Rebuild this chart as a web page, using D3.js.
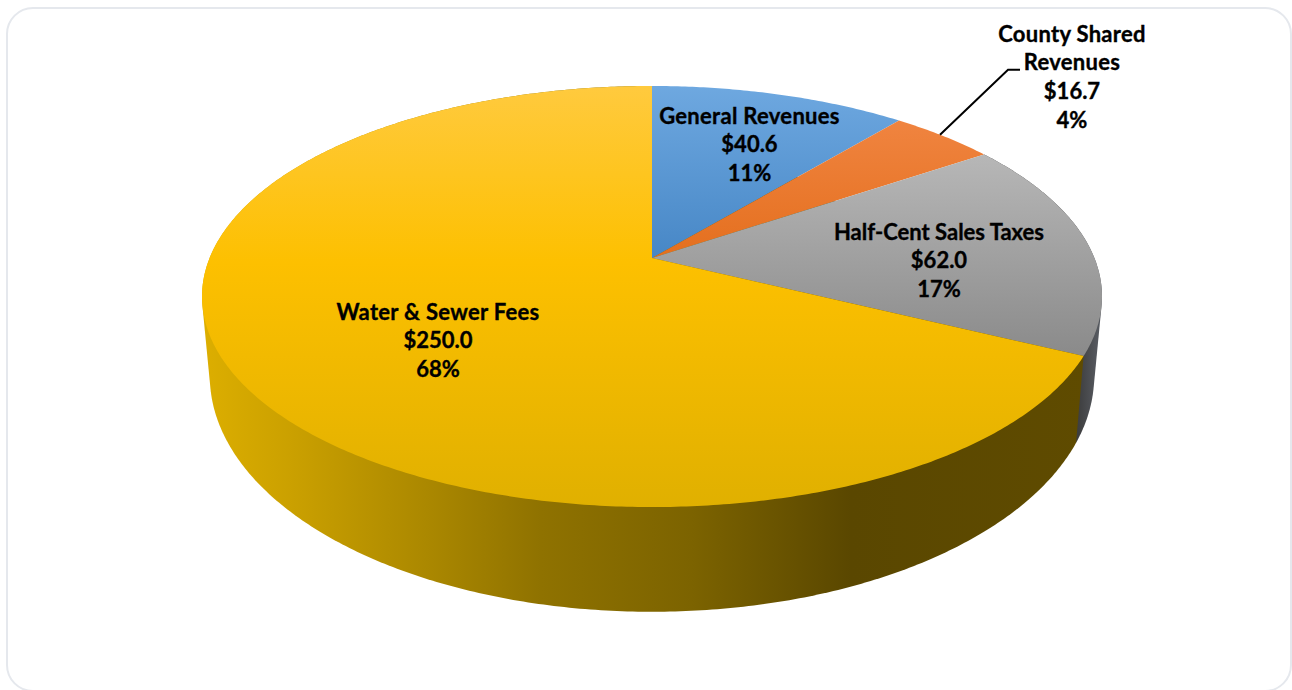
<!DOCTYPE html>
<html>
<head>
<meta charset="utf-8">
<script src="https://cdnjs.cloudflare.com/ajax/libs/d3/7.8.5/d3.min.js"></script>
<style>
html,body{margin:0;padding:0;background:#fff;overflow:hidden}
svg{display:block}
text{font-family:Lato,"Open Sans",sans-serif;font-weight:700;fill:#000;text-anchor:middle;stroke:#000;stroke-width:0.35px}
</style>
</head>
<body>
<svg id="chart" width="1292" height="690"></svg>
<script>
const categories = ["General Revenues", "County Shared Revenues", "Half-Cent Sales Taxes", "Water & Sewer Fees"];
const values = [40.6, 16.7, 62.0, 250.0];
const amountLabels = ["$40.6", "$16.7", "$62.0", "$250.0"];
const percentLabels = ["11%", "4%", "17%", "68%"];

const svg = d3.select("#chart");
const defs = svg.append("defs");

// perspective projection of the pie's top and bottom discs
const k = 0.1829;
const topDisc = {cx: 652, cy: 258, a: 442.4, b: 203.5};
const botDisc = {cx: 652, cy: 333, a: 434.7, b: 227.8};
function project(disc, ang) {
  const u = Math.sin(ang), v = -Math.cos(ang), w = 1 - k * v;
  return [disc.cx + disc.a * u / w, disc.cy + disc.b * v / w];
}
function rim(disc, a0, a1) {
  const n = Math.max(2, Math.ceil(Math.abs(a1 - a0) / 0.01));
  return d3.range(n + 1).map(i => project(disc, a0 + (a1 - a0) * i / n));
}
const line = d3.line();

const arcs = d3.pie().sort(null).startAngle(0).endAngle(2 * Math.PI)(values);

function grad(id, x1, y1, x2, y2, stops) {
  const g = defs.append("linearGradient").attr("id", id).attr("gradientUnits", "userSpaceOnUse")
    .attr("x1", x1).attr("y1", y1).attr("x2", x2).attr("y2", y2);
  stops.forEach(s => g.append("stop").attr("offset", s[0]).attr("stop-color", s[1]));
}
const T0 = topDisc.cy - 172, T1 = topDisc.cy + 249;
grad("top0", 0, T0, 0, topDisc.cy, [[0, "#6ea8e0"], [1, "#4787c6"]]);
grad("top1", 0, 120, 0, topDisc.cy, [[0, "#f08440"], [1, "#e46f1e"]]);
grad("top2", 0, 150, 0, 352, [[0, "#b8b8b8"], [1, "#8b8b8b"]]);
grad("top3", 0, T0, 0, T1, [[0, "#ffca3e"], [0.42, "#fdc000"], [1, "#e0b000"]]);
grad("side3", 205, 0, 1090, 0, [[0, "#dcae00"], [0.1, "#caa000"], [0.25, "#ab8800"], [0.38, "#8f7200"], [0.55, "#7c6300"], [0.73, "#5a4700"], [1, "#5f4b00"]]);
grad("side2", 1075, 0, 1097, 0, [[0, "#3a3a3a"], [1, "#55585e"]]);

// card
svg.append("rect").attr("x", 7).attr("y", 8).attr("width", 1284).attr("height", 683)
  .attr("rx", 26).attr("ry", 26).attr("fill", "#fff").attr("stroke", "#e5e8ed").attr("stroke-width", 2);

// sides: silhouette of the cylinder wall is the hull of both rims
[2, 3].forEach(i => {
  const d = arcs[i];
  const hull = d3.polygonHull(rim(topDisc, d.startAngle, d.endAngle).concat(rim(botDisc, d.startAngle, d.endAngle)));
  svg.append("path").attr("d", line(hull) + "Z").attr("fill", `url(#side${i})`);
});

// top faces
svg.append("g").selectAll("path").data(arcs).join("path")
  .attr("d", d => {
    const pts = [[topDisc.cx, topDisc.cy]].concat(rim(topDisc, d.startAngle, d.endAngle));
    return line(pts) + "Z";
  })
  .attr("fill", (d, i) => `url(#top${i})`);

// leader line for the small slice
const countyAngle = arcs[1].startAngle + (arcs[1].endAngle - arcs[1].startAngle) * 0.46;
const leadStart = project(topDisc, countyAngle);
const leadElbow = [leadStart[0] + 68, leadStart[1] - 65];
const leadEnd = [leadElbow[0] + 12, leadElbow[1]];
svg.append("path").attr("d", line([leadStart, leadElbow, leadEnd]))
  .attr("fill", "none").attr("stroke", "#000").attr("stroke-width", 2);

// labels
const labelLines = [
  [categories[0], amountLabels[0], percentLabels[0]],
  ["County Shared", "Revenues", amountLabels[1], percentLabels[1]],
  [categories[2], amountLabels[2], percentLabels[2]],
  [categories[3], amountLabels[3], percentLabels[3]]
];
const labelAnchors = [[749.5, 123.5], [1072, 41.5], [939, 239.5], [438, 319.5]];
const lineGap = 28.7;
labelLines.forEach((ls, i) => {
  const t = svg.append("text").attr("font-size", 22);
  ls.forEach((s, j) => t.append("tspan")
    .attr("x", labelAnchors[i][0]).attr("y", labelAnchors[i][1] + j * lineGap)
    .attr("letter-spacing", /[A-Za-z]/.test(s) && i !== 2 ? 0.3 : 0)
    .text(s));
});
</script>
</body>
</html>
